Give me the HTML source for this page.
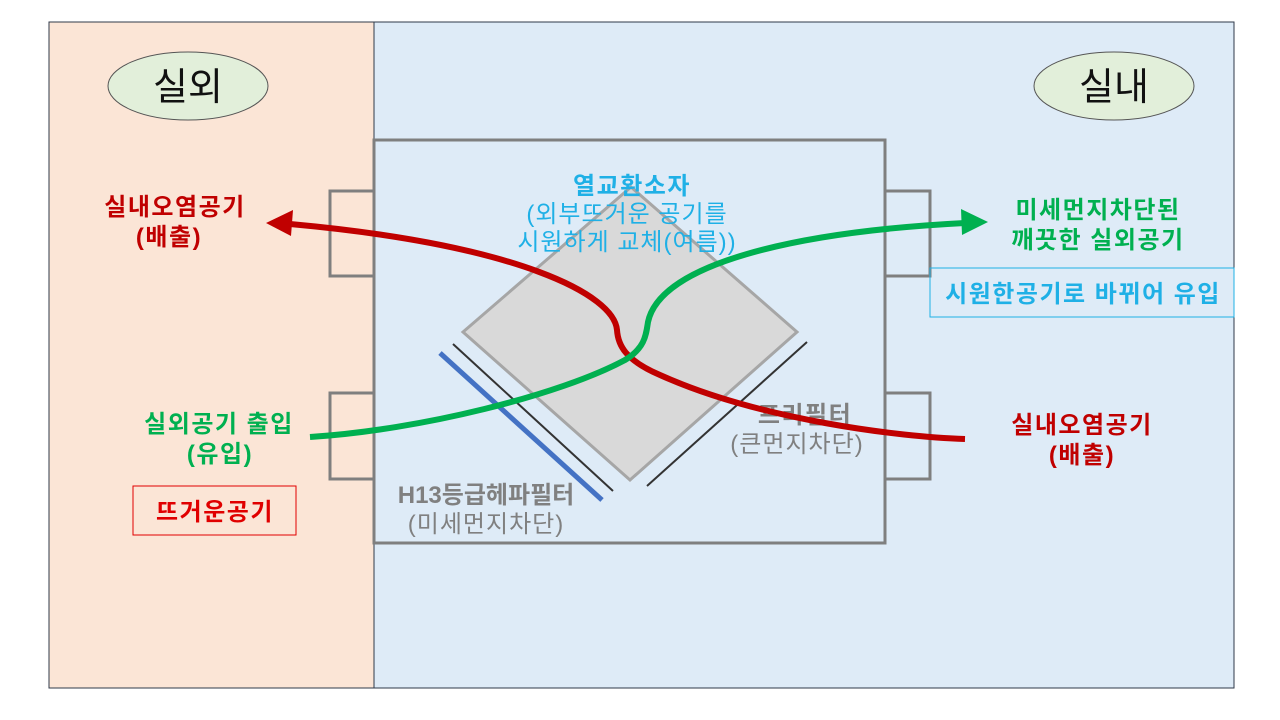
<!DOCTYPE html>
<html><head><meta charset="utf-8"><style>
body{margin:0;background:#fff}
svg{display:block}
text{font-family:"Liberation Sans","Noto Sans CJK KR",sans-serif;font-size:24px;letter-spacing:1.5px}
text.r{letter-spacing:1px}
</style></head><body>
<svg width="1280" height="720" viewBox="0 0 1280 720">
<rect x="0" y="0" width="1280" height="720" fill="#fff"/>
<rect x="49" y="22" width="325" height="666" fill="#fbe5d6"/>
<rect x="374" y="22" width="860" height="666" fill="#deebf7"/>
<rect x="49" y="22" width="1185" height="666" fill="none" stroke="#2f3a4a" stroke-width="1"/>
<line x1="374" y1="22" x2="374" y2="688" stroke="#2f3a4a" stroke-width="1"/>

<ellipse cx="188" cy="86" rx="80" ry="34" fill="#e2efda" stroke="#555" stroke-width="1"/>
<text x="188" y="100" style="font-size:38px;letter-spacing:0" text-anchor="middle" fill="#111">실외</text>
<ellipse cx="1114" cy="86" rx="80" ry="34" fill="#e2efda" stroke="#555" stroke-width="1"/>
<text x="1114" y="100" style="font-size:38px;letter-spacing:0" text-anchor="middle" fill="#111">실내</text>

<rect x="374" y="140" width="511" height="403" fill="none" stroke="#7f7f7f" stroke-width="3"/>
<rect x="330" y="191" width="44" height="85" fill="none" stroke="#7f7f7f" stroke-width="3"/>
<rect x="330" y="393" width="44" height="86" fill="none" stroke="#7f7f7f" stroke-width="3"/>
<rect x="885" y="191" width="45" height="85" fill="none" stroke="#7f7f7f" stroke-width="3"/>
<rect x="885" y="393" width="45" height="86" fill="none" stroke="#7f7f7f" stroke-width="3"/>

<polygon points="631,187 797,332 630,480 463,332" fill="#d9d9d9" stroke="#a6a6a6" stroke-width="3"/>
<line x1="440" y1="353" x2="602" y2="500" stroke="#4472c4" stroke-width="5"/>
<line x1="453" y1="344" x2="613" y2="491" stroke="#333" stroke-width="2"/>
<line x1="807" y1="342" x2="647" y2="486" stroke="#333" stroke-width="2"/>

<text x="632" y="194" font-weight="bold" text-anchor="middle" fill="#1fb0e6">열교환소자</text>
<text class="r" x="627" y="222" text-anchor="middle" fill="#1fb0e6">(외부뜨거운 공기를</text>
<text class="r" x="627" y="250" text-anchor="middle" fill="#1fb0e6">시원하게 교체(여름))</text>

<text x="805" y="423" font-weight="bold" text-anchor="middle" fill="#808080">프리필터</text>
<text class="r" x="797" y="452" text-anchor="middle" fill="#808080">(큰먼지차단)</text>

<path d="M965,439 C900,437 760,420 660,375 C625,360 618,345 617,330 C614,295 520,245 290,224" fill="none" stroke="#c00000" stroke-width="6"/>
<polygon points="266,223 293,210 291,236" fill="#c00000"/>
<path d="M310,437 C420,430 560,395 625,360 C645,348 646,335 648,322 C660,265 790,232 965,223" fill="none" stroke="#00b050" stroke-width="6"/>
<polygon points="988,222 961,209 962,235" fill="#00b050"/>

<text x="486" y="503" font-weight="bold" text-anchor="middle" fill="#808080" style="letter-spacing:0">H13등급헤파필터</text>
<text class="r" x="486" y="532" text-anchor="middle" fill="#808080">(미세먼지차단)</text>

<text x="175" y="215" font-weight="bold" text-anchor="middle" fill="#c00000">실내오염공기</text>
<text x="169" y="245" font-weight="bold" text-anchor="middle" fill="#c00000">(배출)</text>
<text x="219" y="432" font-weight="bold" text-anchor="middle" fill="#00b050">실외공기 출입</text>
<text x="220" y="462" font-weight="bold" text-anchor="middle" fill="#00b050">(유입)</text>
<rect x="133" y="486" width="163" height="49" fill="none" stroke="#e00000" stroke-width="1"/>
<text x="215" y="520" font-weight="bold" text-anchor="middle" fill="#e00000">뜨거운공기</text>

<text x="1098" y="218" font-weight="bold" text-anchor="middle" fill="#00b050">미세먼지차단된</text>
<text x="1098" y="248" font-weight="bold" text-anchor="middle" fill="#00b050">깨끗한 실외공기</text>
<rect x="930" y="268" width="304" height="49" fill="none" stroke="#1fb0e6" stroke-width="1"/>
<text x="1083" y="302" font-weight="bold" text-anchor="middle" fill="#1fb0e6">시원한공기로 바뀌어 유입</text>
<text x="1082" y="433" font-weight="bold" text-anchor="middle" fill="#c00000">실내오염공기</text>
<text x="1082" y="463" font-weight="bold" text-anchor="middle" fill="#c00000">(배출)</text>
</svg>
</body></html>
